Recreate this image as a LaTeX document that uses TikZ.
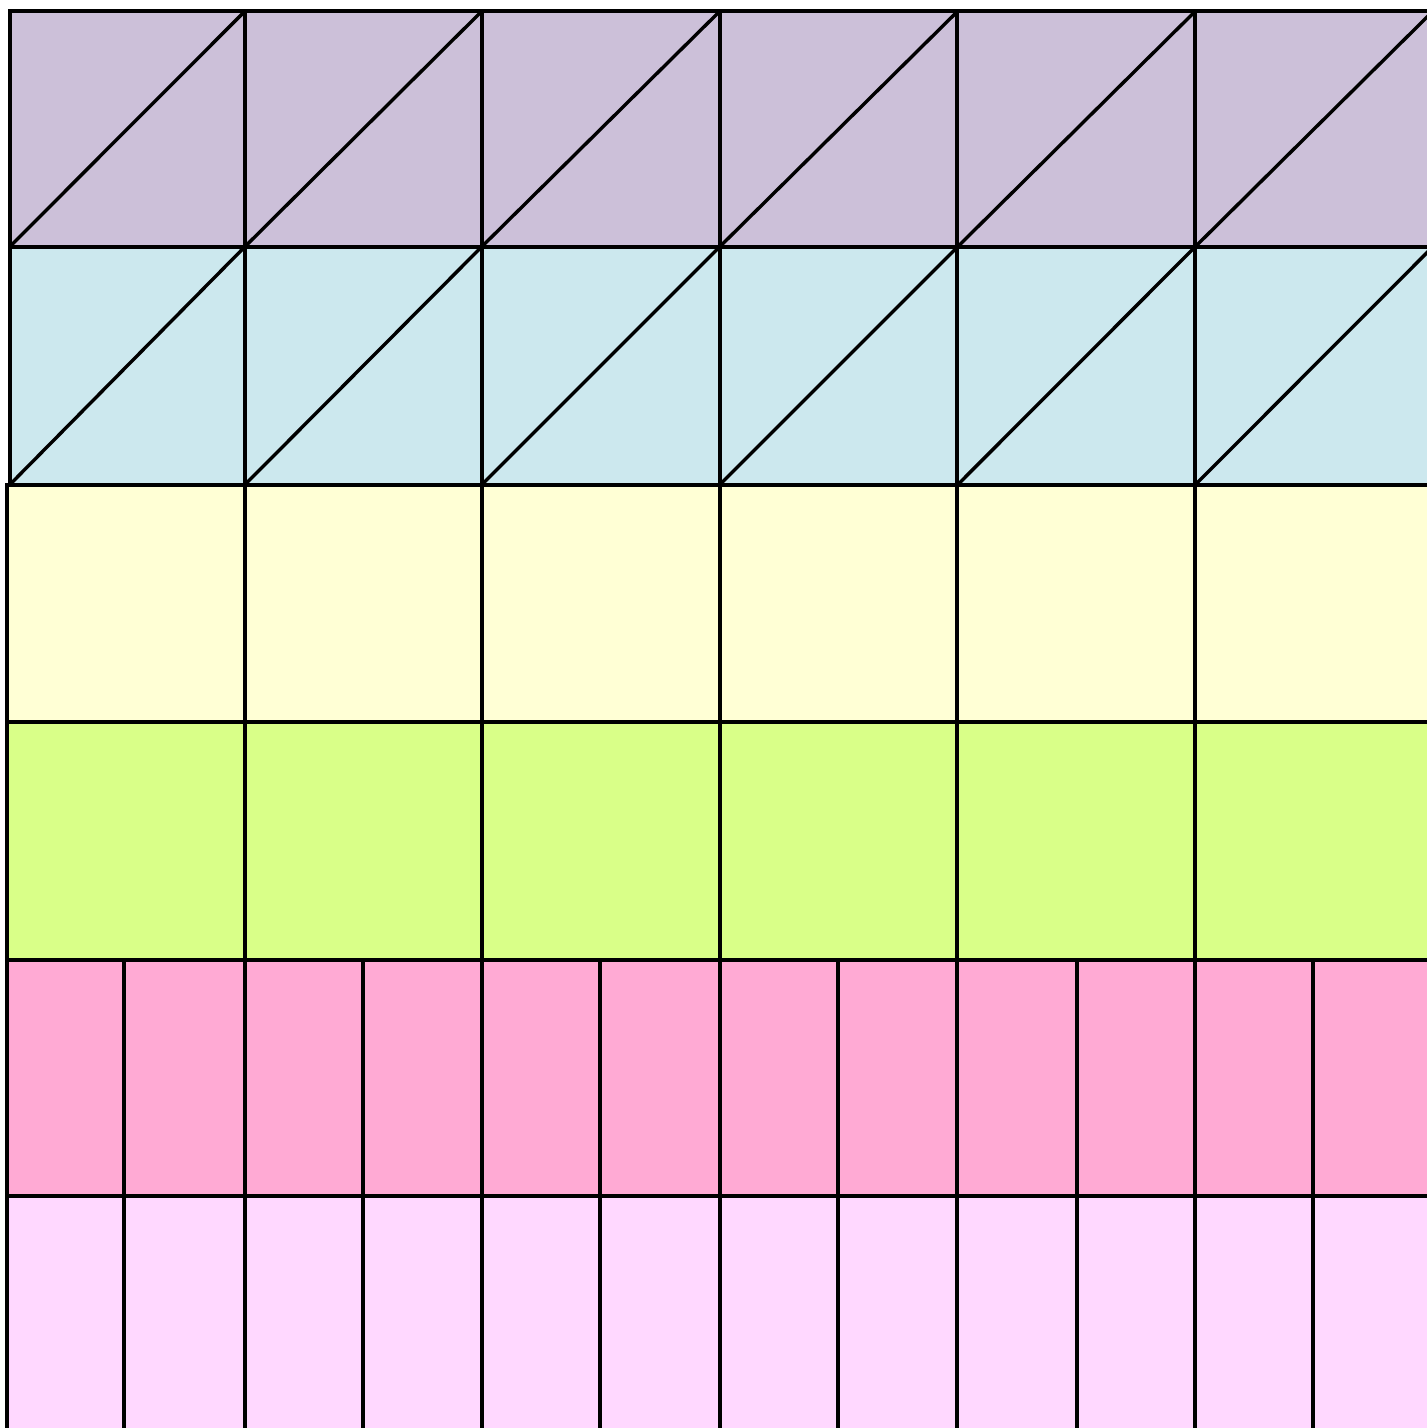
\documentclass[tikz,border=0pt]{standalone}
\definecolor{cpurple}{RGB}{204,192,217}
\definecolor{cblue}{RGB}{204,232,238}
\definecolor{cyellow}{RGB}{255,255,213}
\definecolor{cgreen}{RGB}{217,255,136}
\definecolor{cpink}{RGB}{255,170,212}
\definecolor{clpink}{RGB}{255,216,255}
\begin{document}
\begin{tikzpicture}[x=0.5pt,y=-0.5pt,
  gridline/.style={draw=black,line width=2pt},
  diagline/.style={draw=black,line width=1.7pt}]
\useasboundingbox (0,0) rectangle (1427,1428);
\fill[white] (0,0) rectangle (1427,1428);
\clip (0,0) rectangle (1427,1428);
% rows with diagonals
\foreach \col/\ya/\yb in {cpurple/11.5/247, cblue/247/485}{
  \foreach \xa/\xb in {9.5/244.6,244.6/481.5,481.5/719.5,719.5/957.4,957.4/1195,1195/1432.6}{
    \filldraw[fill=\col,gridline] (\xa,\ya) rectangle (\xb,\yb);
    \draw[diagline] (\xa,\yb) -- (\xb,\ya);
  }
}
% plain rows
\foreach \col/\ya/\yb in {cyellow/485/722, cgreen/722/960}{
  \foreach \xa/\xb in {7/244.6,244.6/481.5,481.5/719.5,719.5/957.4,957.4/1195,1195/1432.6}{
    \filldraw[fill=\col,gridline] (\xa,\ya) rectangle (\xb,\yb);
  }
}
% half-column rows
\foreach \col/\ya/\yb in {cpink/960/1196, clpink/1196/1436}{
  \foreach \xa/\xb in {7/123.5,123.5/244.6,244.6/363,363/481.5,481.5/599.5,599.5/719.5,719.5/838,838/957.4,957.4/1077,1077/1195,1195/1313,1313/1432.6}{
    \filldraw[fill=\col,gridline] (\xa,\ya) rectangle (\xb,\yb);
  }
}
\end{tikzpicture}
\end{document}
